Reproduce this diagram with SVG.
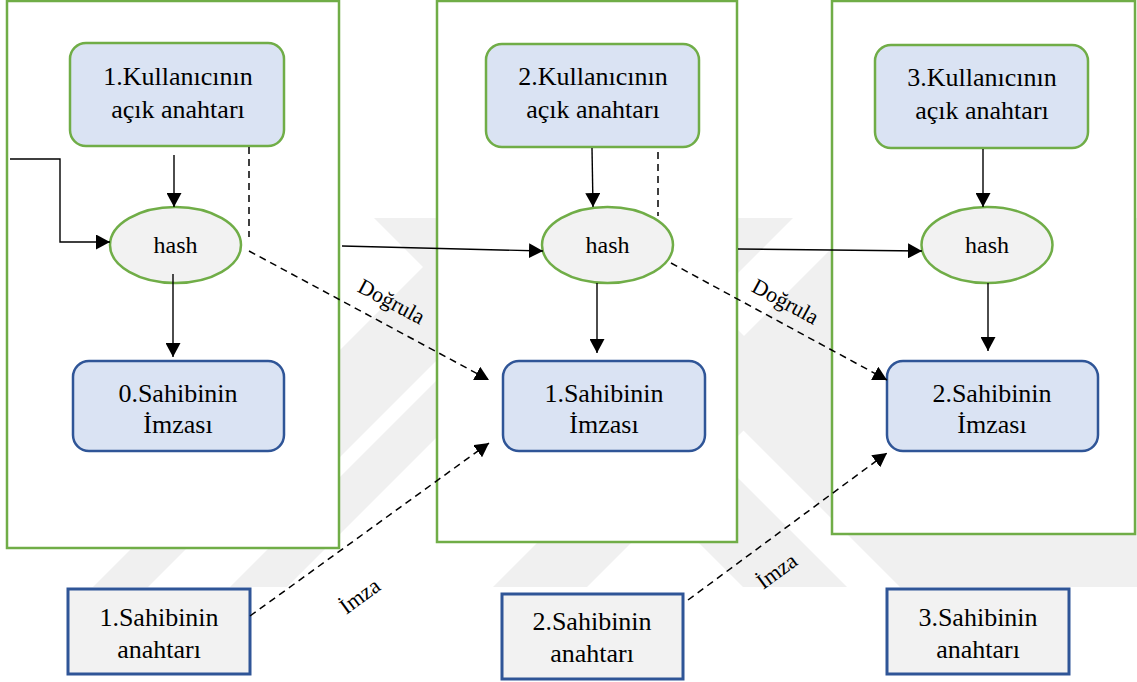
<svg xmlns="http://www.w3.org/2000/svg" width="1137" height="682" viewBox="0 0 1137 682">
<style>
.cont{fill:#ffffff;stroke:#70ad47;stroke-width:2.5}
.kbox{fill:#dae3f3;stroke:#70ad47;stroke-width:2.5}
.sbox{fill:#dae3f3;stroke:#2f5597;stroke-width:2.5}
.obox{fill:#f2f2f2;stroke:#2f5597;stroke-width:3}
.hash{fill:#f2f2f2;stroke:#70ad47;stroke-width:2.5}
text{font-family:'Liberation Serif','Times New Roman','DejaVu Serif',serif;fill:#000;text-anchor:middle}
.t{font-size:26px}
.th{font-size:24px}
.tl{font-size:22px}
.ln{fill:none;stroke:#000;stroke-width:1.4}
.dl{fill:none;stroke:#000;stroke-width:1.5;stroke-dasharray:7 5}
.wm{fill:#f0f0f0}
</style>
<defs>
<marker id="ah" markerUnits="userSpaceOnUse" markerWidth="15" markerHeight="15" refX="14" refY="7.5" orient="auto">
<path d="M0,0 L14,7.5 L0,15 z" fill="#000"/>
</marker>
<clipPath id="wmc"><rect x="0" y="218" width="1137" height="369"/></clipPath>
</defs>
<rect width="1137" height="682" fill="#ffffff"/>
<g id="watermark" clip-path="url(#wmc)">
<polygon class="wm" points="472,218 579,218 249,548 142,548"/>
<polygon class="wm" points="132,548 187,548 148,587 93,587"/>
<polygon class="wm" points="817,0 874,0 -100,974 -157,974"/>
<polygon class="wm" points="1080,0 1174,0 200,974 106,974"/>
<polygon class="wm" points="951,0 1011,0 700,311 640,311"/>
<polygon class="wm" points="156,0 260,0 1060,800 956,800"/>
<polygon class="wm" points="313,0 408,0 1208,800 1113,800"/>
<polygon class="wm" points="770,367 1140,-3 1140,737"/>
</g>
<g id="container1"><rect class="cont" x="7" y="1" width="332" height="547"/></g>
<g id="container2"><rect class="cont" x="437" y="1" width="300" height="541"/></g>
<g id="container3"><rect class="cont" x="832" y="1" width="303" height="533"/></g>
<g id="k1"><rect class="kbox" x="70" y="43" width="214" height="103" rx="16"/><text class="t" x="178" y="85">1.Kullanıcının</text><text class="t" x="178" y="118">açık anahtarı</text></g>
<g id="k2"><rect class="kbox" x="486" y="44" width="213" height="103" rx="16"/><text class="t" x="593" y="85">2.Kullanıcının</text><text class="t" x="593" y="118">açık anahtarı</text></g>
<g id="k3"><rect class="kbox" x="875" y="45" width="213" height="103" rx="16"/><text class="t" x="982" y="86">3.Kullanıcının</text><text class="t" x="982" y="119">açık anahtarı</text></g>
<g id="h1"><ellipse class="hash" cx="175.5" cy="245" rx="65.5" ry="38"/><text class="th" x="175.5" y="253">hash</text></g>
<g id="h2"><ellipse class="hash" cx="607.5" cy="245" rx="65.5" ry="38"/><text class="th" x="607.5" y="253">hash</text></g>
<g id="h3"><ellipse class="hash" cx="987" cy="245" rx="65.5" ry="38"/><text class="th" x="987" y="253">hash</text></g>
<g id="s0"><rect class="sbox" x="73" y="361" width="211" height="90" rx="16"/><text class="t" x="178" y="402">0.Sahibinin</text><text class="t" x="178" y="433">İmzası</text></g>
<g id="s1"><rect class="sbox" x="503" y="361" width="202" height="90" rx="16"/><text class="t" x="604" y="402">1.Sahibinin</text><text class="t" x="604" y="433">İmzası</text></g>
<g id="s2"><rect class="sbox" x="887" y="361" width="211" height="90" rx="16"/><text class="t" x="992" y="402">2.Sahibinin</text><text class="t" x="992" y="433">İmzası</text></g>
<g id="o1"><rect class="obox" x="68" y="589" width="182" height="85"/><text class="t" x="159" y="626">1.Sahibinin</text><text class="t" x="159" y="658">anahtarı</text></g>
<g id="o2"><rect class="obox" x="502" y="594" width="181" height="85"/><text class="t" x="592" y="630">2.Sahibinin</text><text class="t" x="592" y="662">anahtarı</text></g>
<g id="o3"><rect class="obox" x="887" y="589" width="182" height="85"/><text class="t" x="978" y="626">3.Sahibinin</text><text class="t" x="978" y="658">anahtarı</text></g>
<g id="connectors">
<polyline class="ln" points="10,159 60,159 60,242 110,242" marker-end="url(#ah)"/>
<line class="ln" x1="174" y1="155" x2="174" y2="207" marker-end="url(#ah)"/>
<line class="ln" x1="173" y1="274" x2="173" y2="357" marker-end="url(#ah)"/>
<line class="ln" x1="592" y1="148" x2="593" y2="207" marker-end="url(#ah)"/>
<line class="ln" x1="597" y1="283" x2="597" y2="353" marker-end="url(#ah)"/>
<line class="ln" x1="983" y1="149" x2="983" y2="207" marker-end="url(#ah)"/>
<line class="ln" x1="988" y1="283" x2="988" y2="351" marker-end="url(#ah)"/>
<line class="ln" x1="342" y1="246" x2="543" y2="251" marker-end="url(#ah)"/>
<line class="ln" x1="738" y1="249" x2="922" y2="251" marker-end="url(#ah)"/>
<line class="dl" x1="249" y1="147" x2="249" y2="237"/>
<line class="dl" x1="658" y1="152" x2="658" y2="216"/>
<line class="dl" x1="249" y1="251" x2="489" y2="380" marker-end="url(#ah)"/>
<line class="dl" x1="671" y1="263" x2="887" y2="380" marker-end="url(#ah)"/>
<line class="dl" x1="250" y1="616" x2="489" y2="443" marker-end="url(#ah)"/>
<line class="dl" x1="688" y1="600" x2="887" y2="453" marker-end="url(#ah)"/>
<text class="tl" transform="translate(388,308) rotate(28)">Doğrula</text>
<text class="tl" transform="translate(782,308) rotate(28.5)">Doğrula</text>
<text class="tl" transform="translate(364,602) rotate(-36)">İmza</text>
<text class="tl" transform="translate(781,577) rotate(-36)">İmza</text>
</g>
</svg>
